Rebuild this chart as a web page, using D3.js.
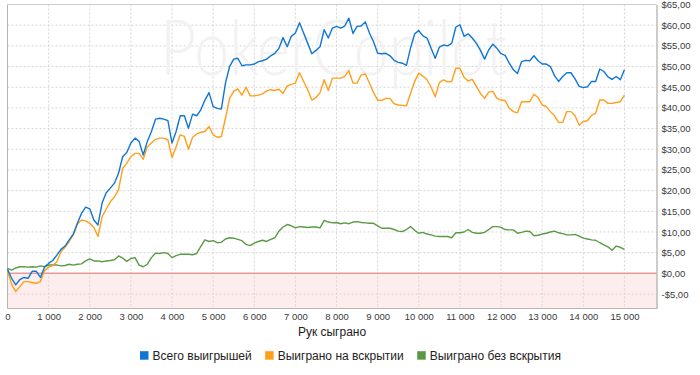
<!DOCTYPE html>
<html>
<head>
<meta charset="utf-8">
<script src="https://cdn.jsdelivr.net/npm/d3@7"></script>
<style>
  body { margin: 0; background: #fff; }
  svg text { font-family: "Liberation Sans", Arial, sans-serif; }
</style>
</head>
<body>
<svg id="chart" width="700" height="375"></svg>
<script>
// hands played, every 100 hands
var hands = d3.range(0, 15001, 100);

// Всего выигрышей
var totalWon = [
  1.0, -1.2, -2.8, -1.5, -1.0, -1.2, 0.5, 0.5, -1.0, 1.5,
  2.4, 3.1, 4.4, 5.8, 6.6, 8.1, 9.5, 12.1, 14.5, 16.0,
  15.6, 12.9, 11.7, 17.0, 19.5, 20.6, 21.8, 24.2, 28.2, 29.2,
  31.5, 32.7, 31.9, 28.6, 31.9, 34.3, 37.3, 37.5, 37.3, 36.9,
  31.5, 34.3, 38.1, 38.1, 35.1, 38.5, 38.1, 39.5, 41.9, 43.7,
  40.3, 39.9, 39.7, 46.0, 50.0, 51.8, 52.0, 50.2, 50.4, 50.4,
  50.6, 51.2, 51.4, 51.8, 52.6, 53.2, 54.4, 57.0, 54.8, 57.3,
  58.1, 60.6, 58.1, 55.6, 53.1, 53.9, 54.8, 58.9, 56.9, 59.3,
  59.7, 59.3, 59.8, 61.7, 58.0, 59.7, 59.8, 60.8, 58.1, 56.0,
  53.2, 53.1, 53.2, 52.6, 51.5, 51.0, 50.8, 50.3, 54.5, 57.9,
  58.7, 57.4, 56.9, 54.4, 52.0, 54.7, 55.2, 55.0, 55.6, 59.5,
  60.1, 57.3, 57.9, 56.9, 55.6, 53.9, 51.8, 54.0, 55.4, 54.4,
  53.1, 52.7, 50.8, 49.2, 48.3, 51.2, 51.5, 51.4, 52.6, 51.4,
  50.6, 50.6, 50.0, 47.8, 46.4, 47.6, 48.5, 48.5, 47.0, 45.2,
  44.9, 45.1, 46.4, 46.4, 49.4, 48.8, 47.5, 46.9, 47.6, 46.8,
  49.2
];

// Выиграно на вскрытии
var showdownWon = [
  0.5, -2.6, -4.4, -3.2, -2.0, -2.0, -2.2, -2.4, -2.0, 0.6,
  1.5, 1.9, 2.8, 5.2, 6.3, 7.7, 9.3, 11.9, 12.9, 12.7,
  12.1, 11.1, 8.9, 13.7, 15.5, 17.3, 18.5, 20.2, 25.4, 26.6,
  28.2, 29.0, 29.0, 27.6, 30.6, 31.5, 32.4, 32.7, 32.7, 32.3,
  28.0, 30.6, 33.5, 33.1, 30.0, 32.9, 33.7, 34.1, 34.3, 35.5,
  33.5, 32.9, 33.1, 37.5, 42.3, 44.0, 44.6, 43.1, 45.0, 42.9,
  42.9, 43.1, 43.4, 44.1, 44.4, 44.2, 44.5, 43.5, 45.3, 45.7,
  46.0, 48.5, 46.4, 44.4, 41.9, 42.5, 43.7, 46.8, 44.2, 47.2,
  47.2, 47.2, 47.6, 49.0, 46.0, 46.0, 48.0, 48.2, 46.0, 43.7,
  41.9, 41.8, 42.3, 42.3, 41.0, 40.7, 40.6, 40.5, 43.5, 46.4,
  48.4, 47.7, 46.8, 45.0, 42.7, 46.1, 46.8, 46.3, 46.4, 49.6,
  49.6, 47.4, 46.5, 46.9, 45.2, 43.5, 42.3, 43.8, 44.0, 42.3,
  41.9, 41.8, 39.9, 39.1, 38.8, 41.5, 41.5, 41.5, 43.3, 42.5,
  40.7, 40.3, 39.1, 38.1, 36.5, 36.5, 39.1, 39.1, 38.1, 35.8,
  36.7, 36.9, 38.2, 38.7, 41.9, 41.9, 41.1, 41.1, 41.3, 41.5,
  43.1
];

// Выиграно без вскрытия
var nonShowdownWon = [
  1.2, 0.8, 1.3, 1.6, 1.6, 1.5, 1.6, 1.5, 1.8, 1.6,
  2.0, 2.0, 2.0, 1.8, 1.9, 2.2, 2.0, 2.2, 2.3, 3.0,
  3.5, 3.0, 3.0, 2.8, 3.0, 3.1, 3.3, 4.2, 3.7, 2.9,
  3.6, 3.8, 2.0, 1.6, 2.2, 3.8, 4.9, 4.8, 5.0, 4.8,
  3.8, 4.3, 4.6, 4.6, 4.6, 4.5, 4.8, 6.5, 8.1, 7.7,
  7.9, 7.4, 7.5, 8.3, 8.6, 8.5, 8.2, 7.9, 7.0, 6.7,
  7.3, 7.7, 8.0, 7.7, 8.2, 8.6, 10.2, 11.2, 11.8, 11.5,
  11.0, 11.3, 11.2, 11.1, 11.2, 11.2, 11.0, 12.8, 12.4, 12.2,
  12.3, 12.0, 12.2, 12.0, 12.4, 12.5, 12.3, 12.2, 12.1, 12.1,
  11.5, 10.9, 10.9, 10.9, 10.6, 10.2, 10.1, 10.6, 11.3, 10.4,
  9.7, 9.9, 9.5, 9.3, 9.0, 8.9, 8.9, 8.9, 8.6, 9.8,
  9.8, 10.0, 10.6, 9.9, 9.7, 9.7, 9.9, 10.6, 11.3, 11.3,
  11.1, 10.6, 10.5, 10.5, 9.7, 9.9, 10.2, 10.1, 9.1, 9.2,
  9.5, 9.7, 10.0, 10.2, 9.8, 9.6, 9.3, 9.3, 9.4, 9.0,
  8.5, 8.3, 8.1, 8.0, 7.4, 6.9, 6.4, 5.6, 6.6, 6.3,
  5.8
];

var seriesNames = ["Всего выигрышей", "Выиграно на вскрытии", "Выиграно без вскрытия"];
var seriesColors = ["#0f76d4", "#ff9f1a", "#5b9a45"];

var xTicks = d3.range(0, 15001, 1000);
var yTicks = d3.range(-5, 66, 5);
var xMax = 15780, yMin = -8.5, yMax = 65;

// note: "top" would clash with window.top, so plot edges get their own names
var svg = d3.select("#chart"),
  plotL = 7.5, plotR = 656.5, plotT = 4.5, plotB = 308.5;

var x = d3.scaleLinear().domain([0, xMax]).range([plotL, plotR]);
var y = d3.scaleLinear().domain([yMin, yMax]).range([plotB, plotT]);

var fmtX = function(d) { return d3.format(",")(d).replace(/,/g, " "); };
var fmtY = function(d) {
  var s = "$" + d3.format(".2f")(Math.abs(d)).replace(".", ",");
  return d < 0 ? "-" + s : s;
};

// loss zone below zero
svg.append("rect")
  .attr("x", plotL).attr("y", y(0))
  .attr("width", plotR - plotL).attr("height", plotB - y(0))
  .attr("fill", "#fdeded");

// dotted grid
var grid = svg.append("g").attr("class", "grid");
grid.selectAll("line.v")
  .data(xTicks.filter(function(d) { return d > 0; }))
  .enter().append("line")
  .attr("x1", function(d) { return x(d); }).attr("x2", function(d) { return x(d); })
  .attr("y1", plotT).attr("y2", plotB)
  .attr("stroke", "#d6d6d6").attr("stroke-dasharray", "2,2");
grid.selectAll("line.h")
  .data(yTicks.filter(function(d) { return d !== 0 && d < yMax; }))
  .enter().append("line")
  .attr("x1", plotL).attr("x2", plotR)
  .attr("y1", function(d) { return y(d); }).attr("y2", function(d) { return y(d); })
  .attr("stroke", "#d6d6d6").attr("stroke-dasharray", "2,2");

// watermark
svg.append("text")
  .attr("x", 160).attr("y", 75)
  .attr("textLength", 347).attr("lengthAdjust", "spacingAndGlyphs")
  .style("font-family", "Lato, 'Open Sans', sans-serif")
  .style("font-weight", 300)
  .style("font-size", "76px")
  .attr("fill", "#f2f2f2")
  .text("PokerCopilot");

// zero line
svg.append("line")
  .attr("x1", plotL).attr("x2", plotR)
  .attr("y1", y(0)).attr("y2", y(0))
  .attr("stroke", "#e79a9a").attr("stroke-width", 1.5);

// frame
svg.append("line").attr("x1", plotL).attr("x2", plotR).attr("y1", plotT).attr("y2", plotT)
  .attr("stroke", "#cfcfcf");
svg.append("line").attr("x1", plotL).attr("x2", plotL).attr("y1", plotT).attr("y2", plotB)
  .attr("stroke", "#b5b5b5");
svg.append("line").attr("x1", plotL).attr("x2", plotR).attr("y1", plotB).attr("y2", plotB)
  .attr("stroke", "#b5b5b5");

// axes
var yAxis = svg.append("g")
  .attr("transform", "translate(" + plotR + ",0)")
  .call(d3.axisRight(y).tickValues(yTicks).tickSize(0).tickPadding(5).tickFormat(fmtY));
yAxis.select(".domain").attr("stroke", "#9a9a9a");
yAxis.selectAll("text").style("font-size", "9.5px").attr("fill", "#3a3a3a");

var xAxis = svg.append("g")
  .attr("transform", "translate(0," + plotB + ")")
  .call(d3.axisBottom(x).tickValues(xTicks).tickSize(0).tickPadding(5).tickFormat(fmtX));
xAxis.select(".domain").remove();
xAxis.selectAll("text").style("font-size", "9.5px").attr("fill", "#3a3a3a");

svg.append("text")
  .attr("x", (plotL + plotR) / 2).attr("y", 336)
  .attr("text-anchor", "middle")
  .style("font-size", "12px").attr("fill", "#222")
  .text("Рук сыграно");

// the three series lines
var allSeries = [totalWon, showdownWon, nonShowdownWon];
var line = d3.line()
  .x(function(d, i) { return x(hands[i]); })
  .y(function(d) { return y(d); });

// draw green first so blue stays on top like the original
[2, 1, 0].forEach(function(k) {
  svg.append("path")
    .datum(allSeries[k])
    .attr("d", line)
    .style("fill", "none")
    .attr("stroke", seriesColors[k])
    .attr("stroke-width", 1.4)
    .attr("stroke-linejoin", "round");
});

// legend
var lx = 140, ly = 355.7;
seriesNames.forEach(function(name, k) {
  svg.append("rect")
    .attr("x", lx).attr("y", ly - 4.5)
    .attr("width", 8.5).attr("height", 8.5)
    .attr("fill", seriesColors[k]);
  var t = svg.append("text")
    .attr("x", lx + 12.5).attr("y", ly + 4.2)
    .style("font-size", "12px").attr("fill", "#222")
    .text(name);
  lx = lx + 12.5 + t.node().getComputedTextLength() + 13.5;
});
</script>
</body>
</html>
